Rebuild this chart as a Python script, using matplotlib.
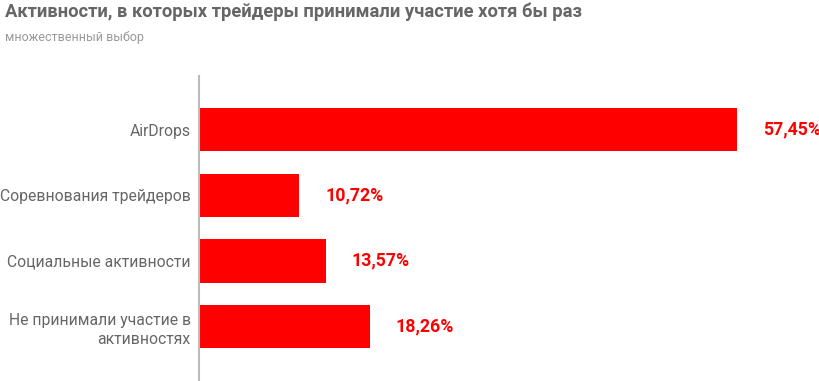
import matplotlib
matplotlib.use("Agg")
import matplotlib.pyplot as plt

categories = ["AirDrops", "Соревнования трейдеров", "Социальные активности",
              "Не принимали участие в\nактивностях"]
values = [57.45, 10.72, 13.57, 18.26]
value_labels = ["57,45%", "10,72%", "13,57%", "18,26%"]
title = "Активности, в которых трейдеры принимали участие хотя бы раз"
subtitle = "множественный выбор"

plt.rcParams['font.family'] = ['Roboto', 'DejaVu Sans']

fig = plt.figure(figsize=(8.2, 3.81), dpi=100)
ax = fig.add_axes([199/820, 0.0, 1 - 199/820, 1 - 76/381])

ypos = list(range(len(categories)))
ax.barh(ypos, values, height=0.66, color="#ff0000")
ax.set_ylim(3.83, -0.816)
ax.set_xlim(0, 621/9.365)

for y, v, lab in zip(ypos, values, value_labels):
    ax.annotate(lab, xy=(v, y), xytext=(18.5, 0), textcoords="offset points",
                ha="left", va="center", color="#ff0000", fontsize=12.8,
                fontweight="bold")

ax.set_yticks(ypos)
ax.set_yticklabels(categories, fontsize=11.3, color="#666666")
ax.tick_params(axis="y", length=0, pad=6)
ax.set_xticks([])
for s in ["top", "right", "bottom"]:
    ax.spines[s].set_visible(False)
ax.spines["left"].set_color("#bbbbbb")
ax.spines["left"].set_linewidth(1.5)
for t in ax.get_yticklabels():
    t.set_multialignment("right")
    t.set_linespacing(1.3)

fig.text(5/820, 1 - 12/381, title, fontsize=13.2, fontweight="bold",
         color="#666666", ha="left", va="center")
fig.text(5/820, 1 - 38/381, subtitle, fontsize=9, color="#999999",
         ha="left", va="center")

fig.savefig("out.png", dpi=100)
